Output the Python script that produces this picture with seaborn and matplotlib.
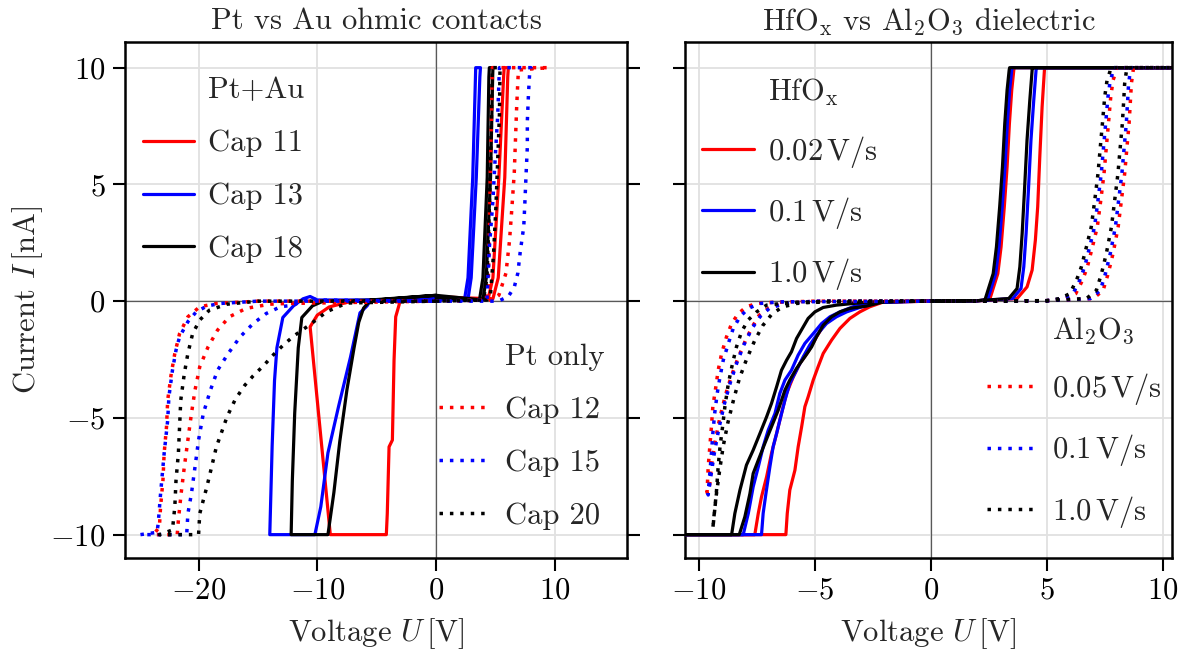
import matplotlib
matplotlib.use("Agg")
import matplotlib.pyplot as plt
from matplotlib.lines import Line2D
import seaborn as sns

# ---------------- Left panel: Pt vs Au ohmic contacts ----------------
# Pt+Au (solid)
cap11_v = [0, 4.4, 4.8, 5.3, 5.7, 5.75, 6.1, 6.05, 5.8, 5.25, 4.8, 2.0, 0, -2.5, -3.0, -3.11, -3.39, -3.53,
           -3.67, -3.95, -4.1, -4.18, -8.9, -10.6, -10.0, -9.0, -7.5, -5.0, 0]
cap11_i = [0.1, 0.1, 1.0, 5.3, 9.6, 10, 10, 9.6, 5.3, 1.0, 0.1, 0.15, 0.2, 0.15, 0.1, -0.17, -0.67, -2.53,
           -5.95, -6.24, -9.1, -10, -10, -1.1, -0.6, -0.25, -0.05, 0.05, 0.1]
cap13_v = [0, 2.4, 2.7, 3.1, 3.33, 3.35, 3.75, 3.7, 3.4, 2.97, 2.69, 0, -5.5, -5.8, -6.4, -7.2, -8.2, -9.1,
           -9.7, -10.2, -14.0, -13.8, -13.6, -13.4, -12.9, -12.0, -11.2, -10.6, -10.0, -6.0, 0]
cap13_i = [0.1, 0.05, 1.0, 5.3, 9.6, 10, 10, 9.6, 5.3, 1.0, 0.05, 0.1, 0.05, -0.2, -0.5, -2.4, -4.5, -6.5,
           -8.8, -10, -10, -6.2, -3.4, -2.0, -0.7, -0.2, 0.1, 0.2, 0.05, 0.05, 0.1]
cap18_v = [0, 3.67, 3.96, 4.32, 4.46, 4.5, 4.8, 4.78, 4.6, 4.24, 3.96, 0, -5.5, -6.1, -6.5, -6.9, -7.5, -8.1,
           -8.6, -9.1, -12.2, -12.1, -11.9, -11.6, -11.3, -10.4, -9.5, -5.0, 0]
cap18_i = [0.15, 0.05, 1.0, 5.3, 9.6, 10, 10, 9.6, 5.3, 1.0, 0.05, 0.25, 0.05, -0.3, -0.9, -2.0, -3.8, -6.0,
           -8.2, -10, -10, -7.7, -4.8, -2.0, -0.7, -0.2, 0.0, 0.05, 0.25]
# Pt only (dotted)
cap12_v = [0, 4.2, 4.4, 4.5, 4.6, 4.7, 4.75, 9.5, 6.95, 6.9, 6.8, 6.7, 6.6, 6.4, 6.2, 5.9, 5.3, 4.8, 0,
           -12.6, -14.0, -16.0, -17.4, -18.4, -19.2, -19.9, -20.3, -20.6, -20.9, -21.2, -21.47, -21.7, -21.8,
           -23.8, -23.3, -23.2, -23.0, -22.9, -22.7, -22.6, -22.3, -22.0, -21.6, -20.9, -19.9, -18.5, -15.0, 0]
cap12_i = [0, 0.05, 0.5, 3.0, 6.0, 8.5, 10, 10, 9.9, 9.4, 8.3, 6.9, 5.5, 4.0, 2.6, 1.2, 0.25, 0.05, 0,
           -0.1, -0.13, -0.31, -0.67, -1.24, -1.96, -2.81, -3.81, -4.81, -5.95, -7.1, -8.24, -9.38, -10,
           -10, -9.67, -8.8, -7.67, -6.52, -5.38, -4.24, -3.1, -2.24, -1.39, -0.67, -0.24, -0.1, 0, 0]
cap15_v = [0, 4.3, 4.5, 4.8, 5.0, 5.2, 5.3, 5.35, 8.0, 7.9, 7.8, 7.7, 7.7, 7.6, 7.5, 7.4, 7.1, 6.9, 6.6, 6.1,
           5.25, 0, -10.0, -10.7, -12.0, -13.1, -14.3, -15.4, -16.5, -17.5, -18.4, -19.0, -19.6, -20.0, -20.3,
           -20.6, -20.9, -21.0, -24.9, -23.5, -23.4, -23.2, -22.9, -22.6, -22.5, -22.2, -21.9, -21.6, -20.9,
           -20.2, -19.3, -18.2, -15.0, 0]
cap15_i = [0, 0.05, 2.3, 4.3, 6.2, 7.9, 9.3, 10, 10, 9.8, 8.9, 7.7, 6.6, 5.5, 4.3, 3.2, 2.1, 1.2, 0.6, 0.2,
           0, 0, 0.05, 0.15, -0.17, -0.24, -0.53, -0.96, -1.53, -2.24, -2.96, -3.81, -4.81, -5.95, -7.1,
           -8.24, -9.1, -10, -10, -9.9, -9.52, -8.24, -6.52, -5.1, -4.1, -2.96, -2.1, -1.53, -0.88,
           -0.46, -0.21, -0.1, 0, 0]
cap20_v = [0, 4.0, 4.3, 4.5, 4.65, 4.75, 5.4, 5.35, 5.2, 5.05, 4.85, 4.6, 4.3, 0, -7.5, -9.2, -10.6, -12.0,
           -12.9, -13.7, -14.5, -15.4, -16.1, -16.9, -17.6, -18.1, -18.5, -18.9, -19.3, -19.6, -19.9, -20.0,
           -23.3, -22.2, -22.0, -21.9, -21.7, -21.6, -21.5, -21.2, -20.9, -20.5, -19.9, -19.1, -17.6, -15.0, 0]
cap20_i = [0, 0.05, 1.0, 4.0, 7.0, 10, 10, 8.0, 6.0, 4.0, 2.0, 0.3, 0.05, 0, -0.08, -0.45, -1.0, -1.5,
           -1.9, -2.3, -2.75, -3.2, -3.6, -4.2, -4.95, -5.67, -6.24, -7.1, -7.95, -8.52, -9.1, -10,
           -10, -9.8, -8.8, -7.67, -6.52, -5.38, -4.24, -3.1, -2.24, -1.39, -0.81, -0.39, -0.13, 0, 0]

# ---------------- Right panel: HfOx vs Al2O3 dielectric ----------------
# HfOx (solid)
hf002_v = [0, 2.0, 2.53, 2.89, 3.03, 3.17, 3.29, 3.39, 3.49, 3.58, 3.6, 11, 4.92, 4.90, 4.80, 4.70, 4.61, 4.51,
           4.37, 4.15, 3.72, 2.0, 0, -2.0, -2.63, -3.06, -3.49, -3.92, -4.28, -4.64, -4.86, -5.07, -5.29, -5.43,
           -5.57, -5.72, -5.86, -6.08, -6.19, -6.25, -11, -7.59, -7.44, -7.30, -7.08, -6.87, -6.65, -6.44,
           -6.22, -5.93, -5.65, -5.29, -4.93, -4.57, -4.21, -3.63, -2.92, -2.2, 0]
hf002_i = [0, 0.02, 0.04, 1.18, 2.32, 4.04, 5.75, 7.61, 9.04, 9.9, 10, 10, 10, 9.9, 8.32, 6.18, 4.04, 2.62,
           1.33, 0.61, 0.11, 0.02, 0, -0.02, -0.24, -0.46, -0.74, -1.17, -1.67, -2.24, -2.81, -3.38, -4.10, -4.52,
           -5.38, -6.24, -7.24, -8.09, -9.09, -10, -10, -10, -9.09, -8.38, -7.52, -6.52, -5.67, -4.81,
           -3.95, -3.24, -2.67, -2.17, -1.53, -0.96, -0.67, -0.39, -0.21, -0.05, 0]
hf01_v = [0, 2.0, 2.44, 2.80, 2.94, 3.08, 3.20, 3.30, 3.40, 3.49, 3.5, 11, 4.56, 4.54, 4.44, 4.32, 4.21, 4.11,
          4.01, 3.89, 3.53, 2.0, 0, -2.2, -3.06, -3.63, -4.07, -4.50, -4.93, -5.22, -5.50, -5.79, -6.08, -6.29,
          -6.51, -6.65, -6.80, -6.94, -7.11, -7.23, -7.30, -11, -8.09, -7.87, -7.66, -7.44, -7.23, -7.01,
          -6.72, -6.51, -6.29, -6.01, -5.72, -5.43, -5.07, -4.71, -4.35, -3.92, -3.35, -2.5, 0]
hf01_i = [0, 0.02, 0.04, 1.18, 2.32, 4.04, 5.75, 7.61, 9.04, 9.9, 10, 10, 10, 9.9, 8.61, 6.9, 4.75, 2.9,
          1.47, 0.54, 0.11, 0.02, 0, -0.03, -0.27, -0.46, -0.67, -0.96, -1.46, -1.88, -2.38, -2.96, -3.52, -4.24,
          -5.10, -5.67, -6.24, -7.10, -8.24, -9.09, -10, -10, -10, -9.09, -7.95, -7.10, -6.24, -5.52,
          -4.81, -3.95, -3.38, -2.96, -2.31, -1.81, -1.39, -0.96, -0.67, -0.46, -0.24, -0.05, 0]
hf10_v = [0, 2.0, 2.33, 2.69, 2.83, 2.97, 3.09, 3.19, 3.29, 3.38, 3.4, 11, 4.39, 4.37, 4.27, 4.15, 4.04, 3.94,
          3.84, 3.72, 3.36, 2.0, 0, -2.0, -2.77, -3.49, -3.92, -4.28, -4.64, -4.93, -5.14, -5.43, -5.79, -6.08,
          -6.29, -6.58, -6.87, -7.16, -7.44, -7.66, -7.80, -8.02, -8.26, -11, -8.59, -8.45, -8.23, -7.95,
          -7.66, -7.37, -7.08, -6.87, -6.65, -6.44, -6.22, -6.01, -5.79, -5.50, -5.29, -5.0, -4.64, -4.07,
          -3.35, -2.5, 0]
hf10_i = [0, 0.02, 0.04, 1.18, 2.32, 4.04, 5.75, 7.61, 9.04, 9.9, 10, 10, 10, 9.9, 8.61, 6.9, 4.75, 2.9,
          1.47, 0.54, 0.11, 0.02, 0, -0.02, -0.21, -0.31, -0.46, -0.67, -1.03, -1.53, -1.96, -2.38, -2.88, -3.38,
          -3.81, -4.67, -5.38, -6.10, -6.81, -7.38, -8.24, -9.24, -10, -10, -10, -9.09, -8.09, -7.02,
          -6.38, -5.67, -4.95, -4.38, -3.67, -2.96, -2.53, -2.17, -1.6, -1.1, -0.74, -0.46, -0.27, -0.17,
          -0.1, -0.03, 0]
# Al2O3 (dotted)
al005_v = [0, 5.0, 5.82, 6.25, 6.54, 6.75, 6.97, 7.18, 7.33, 7.47, 7.57, 7.66, 7.76, 7.86, 7.98, 8.0, 11,
           8.74, 8.72, 8.65, 8.61, 8.55, 8.46, 8.36, 8.22, 8.08, 7.86, 7.65, 7.43, 7.00, 5.0, 0,
           -5.0, -6.4, -7.0, -7.4, -7.7, -8.0, -8.3, -8.6, -8.85, -9.1, -9.3, -9.45, -9.55, -9.65,
           -9.6, -9.53, -9.46, -9.40, -9.27, -9.17, -9.02, -8.81, -8.59, -8.30, -7.95, -7.51, -6.8, -5.0, 0]
al005_i = [0, 0.02, 0.11, 0.32, 0.89, 1.46, 2.32, 3.18, 4.32, 5.46, 6.6, 7.6, 8.75, 9.46, 9.82, 10, 10,
           10, 9.82, 9.32, 8.61, 7.6, 6.6, 5.46, 4.32, 3.18, 2.04, 1.18, 0.46, 0.11, 0.02, 0,
           0, -0.1, -0.3, -0.6, -1.1, -1.7, -2.4, -3.2, -4.0, -5.0, -6.0, -7.0, -8.0, -8.2,
           -7.1, -6.24, -5.38, -4.52, -3.67, -2.96, -2.24, -1.53, -0.96, -0.53, -0.24, -0.1, -0.05, 0, 0]
al01_v = [0, 5.0, 5.70, 6.13, 6.42, 6.63, 6.85, 7.06, 7.21, 7.35, 7.45, 7.54, 7.64, 7.74, 7.86, 7.88, 11,
          8.62, 8.60, 8.53, 8.49, 8.43, 8.34, 8.24, 8.10, 7.96, 7.74, 7.53, 7.31, 6.88, 5.0, 0,
          -5.0, -6.3, -6.95, -7.35, -7.7, -8.05, -8.35, -8.65, -8.9, -9.15, -9.35, -9.5, -9.6,
          -9.60, -9.53, -9.46, -9.40, -9.32, -9.21, -9.09, -8.95, -8.73, -8.52, -8.23, -7.87, -7.37, -6.5, 0]
al01_i = [0, 0.02, 0.11, 0.32, 0.89, 1.46, 2.32, 3.18, 4.32, 5.46, 6.6, 7.6, 8.75, 9.46, 9.82, 10, 10,
          10, 9.82, 9.32, 8.61, 7.6, 6.6, 5.46, 4.32, 3.18, 2.04, 1.18, 0.46, 0.11, 0.02, 0,
          0, -0.1, -0.3, -0.65, -1.15, -1.85, -2.6, -3.5, -4.4, -5.5, -6.6, -7.6, -8.3,
          -8.24, -7.38, -6.52, -5.67, -4.81, -3.95, -3.24, -2.53, -1.81, -1.17, -0.67, -0.31, -0.1, -0.03, 0]
al10_v = [0, 5.0, 5.56, 5.99, 6.28, 6.49, 6.71, 6.92, 7.07, 7.21, 7.31, 7.40, 7.50, 7.60, 7.72, 7.75, 11,
          8.45, 8.43, 8.36, 8.32, 8.26, 8.17, 8.07, 7.93, 7.79, 7.57, 7.36, 7.14, 6.71, 5.0, 0,
          -4.5, -5.8, -6.4, -6.85, -7.25, -7.6, -7.95, -8.25, -8.5, -8.75, -8.95, -9.1, -9.25, -9.35, -9.4,
          -9.32, -9.24, -9.17, -9.09, -8.98, -8.88, -8.73, -8.55, -8.38, -8.16, -7.88, -7.51, -7.08, -6.0, 0]
al10_i = [0, 0.02, 0.11, 0.32, 0.89, 1.46, 2.32, 3.18, 4.32, 5.46, 6.6, 7.6, 8.75, 9.46, 9.82, 10, 10,
          10, 9.82, 9.32, 8.61, 7.6, 6.6, 5.46, 4.32, 3.18, 2.04, 1.18, 0.46, 0.11, 0.02, 0,
          0, -0.1, -0.25, -0.55, -1.05, -1.7, -2.5, -3.3, -4.2, -5.2, -6.2, -7.2, -8.3, -9.2, -9.74,
          -8.95, -8.1, -7.1, -6.24, -5.38, -4.52, -3.52, -2.67, -1.96, -1.31, -0.81, -0.46, -0.17, -0.05, 0]

left_solid = [("Cap 11", cap11_v, cap11_i, "red"), ("Cap 13", cap13_v, cap13_i, "blue"),
              ("Cap 18", cap18_v, cap18_i, "black")]
left_dotted = [("Cap 12", cap12_v, cap12_i, "red"), ("Cap 15", cap15_v, cap15_i, "blue"),
               ("Cap 20", cap20_v, cap20_i, "black")]
right_solid = [(r"$0.02\,\mathrm{V/s}$", hf002_v, hf002_i, "red"), (r"$0.1\,\mathrm{V/s}$", hf01_v, hf01_i, "blue"),
               (r"$1.0\,\mathrm{V/s}$", hf10_v, hf10_i, "black")]
right_dotted = [(r"$0.05\,\mathrm{V/s}$", al005_v, al005_i, "red"), (r"$0.1\,\mathrm{V/s}$", al01_v, al01_i, "blue"),
                (r"$1.0\,\mathrm{V/s}$", al10_v, al10_i, "black")]

FS = 22
sns.set_theme(style="whitegrid", rc={
    "axes.edgecolor": "black", "axes.linewidth": 1.8, "grid.color": "#e1e1e1", "grid.linewidth": 1.3,
    "xtick.bottom": True, "ytick.left": True,
})
plt.rcParams["font.family"] = ["cmr10", "DejaVu Serif"]
plt.rcParams["mathtext.fontset"] = "cm"
plt.rcParams["axes.formatter.use_mathtext"] = True
plt.rcParams["axes.unicode_minus"] = True

fig = plt.figure(figsize=(11.88, 6.57), dpi=100)
ax1 = fig.add_axes([0.1052, 0.1507, 0.4226, 0.7854])
ax2 = fig.add_axes([0.5766, 0.1507, 0.4099, 0.7854])

LW = 2.3
DOT = (0, (1, 2))


def draw(ax, solid, dotted):
    ax.axhline(0, color="0.35", lw=0.9, zorder=1.5)
    ax.axvline(0, color="0.35", lw=0.9, zorder=1.5)
    for _, v, i, c in solid:
        sns.lineplot(x=v, y=i, sort=False, estimator=None, color=c, lw=LW, ax=ax, zorder=3)
    for _, v, i, c in dotted:
        sns.lineplot(x=v, y=i, sort=False, estimator=None, color=c, lw=LW + 0.2, linestyle=DOT, ax=ax, zorder=4)


def legends(ax, title1, solid, title2, dotted, x2):
    blank = Line2D([], [], color="none")
    h1 = [blank] + [Line2D([], [], color=c, lw=LW) for _, _, _, c in solid]
    l1 = [title1] + [n for n, _, _, _ in solid]
    h2 = [blank] + [Line2D([], [], color=c, lw=LW + 0.2, linestyle=DOT) for _, _, _, c in dotted]
    l2 = [title2] + [n for n, _, _, _ in dotted]
    kw = dict(frameon=False, fontsize=FS, handlelength=1.7, handletextpad=0.45, labelspacing=0.83,
              borderpad=0.0, borderaxespad=0.0)
    lg1 = ax.legend(h1, l1, loc="upper left", bbox_to_anchor=(0.035, 0.932), **kw)
    ax.add_artist(lg1)
    ax.legend(h2, l2, loc="lower right", bbox_to_anchor=(x2, 0.055), **kw)


draw(ax1, left_solid, left_dotted)
draw(ax2, right_solid, right_dotted)
legends(ax1, "Pt+Au", left_solid, "Pt only", left_dotted, 0.955)
legends(ax2, r"HfO$_\mathrm{x}$", right_solid, r"Al$_2$O$_3$", right_dotted, 0.98)

ax1.set_xlim(-26.2, 16.1)
ax2.set_xlim(-10.6, 10.4)
for ax in (ax1, ax2):
    ax.set_ylim(-11.0, 11.1)
    ax.set_yticks([-10, -5, 0, 5, 10])
    ax.tick_params(axis="both", direction="out", length=9, width=1.5, labelsize=FS, pad=5, colors="black")
    ax.grid(True, zorder=0)
    ax.set_axisbelow(True)
    ax.set_xlabel(r"Voltage $U\,$[V]", fontsize=FS, labelpad=8)
ax1.set_xticks([-20, -10, 0, 10])
ax2.set_xticks([-10, -5, 0, 5, 10])
ax1.tick_params(axis="y", right=True)
ax2.tick_params(axis="y", labelleft=False)
ax1.set_ylabel(r"Current $I\,$[nA]", fontsize=FS)
ax2.set_ylabel("")
ax1.set_title("Pt vs Au ohmic contacts", fontsize=FS, pad=9)
ax2.set_title(r"HfO$_\mathrm{x}$ vs Al$_2$O$_3$ dielectric", fontsize=FS, pad=9)

fig.savefig("out.png", dpi=100)
